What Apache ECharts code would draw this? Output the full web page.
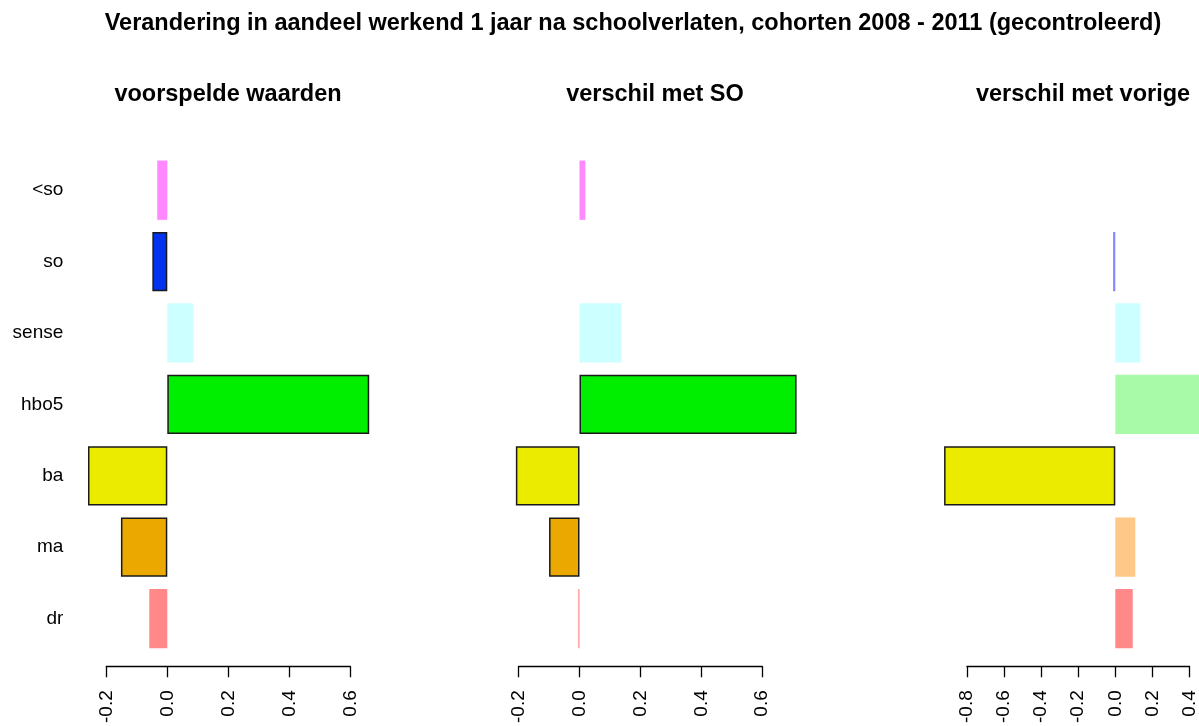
<!DOCTYPE html>
<html>
<head>
<meta charset="utf-8">
<script src="https://cdn.jsdelivr.net/npm/echarts@6/dist/echarts.min.js"></script>
<style>
  html, body { margin: 0; padding: 0; background: #fff; }
  #chart { width: 1199px; height: 726px; }
</style>
</head>
<body>
<div id="chart"></div>
<script>
// categories, top to bottom
var categories = ['<so', 'so', 'sense', 'hbo5', 'ba', 'ma', 'dr'];

// values
var predicted = [-0.033, -0.049, 0.085, 0.662, -0.26, -0.152, -0.059];
var diffSO = [0.019, 0, 0.138, 0.713, -0.209, -0.1, -0.004];
var diffPrev = [0, -0.012, 0.135, 0.58, -0.923, 0.108, 0.094];

// which bars are drawn strong (with border) in each panel
var strongPredicted = [false, true, false, true, true, true, false];
var strongSO = [false, false, false, true, true, true, false];
var strongPrev = [false, false, false, false, true, false, false];

var panelTitles = ['voorspelde waarden', 'verschil met SO', 'verschil met vorige'];

// colours per category
var fullColors = ['#ff00ff', '#0433ee', '#88ffff', '#00ee00', '#ebeb00', '#eba900', '#ff0000'];
var lightColors = ['#ff88ff', '#8888ff', '#ccffff', '#a8f9a8', '#ebeb80', '#fdc888', '#ff8888'];

var font = '"Liberation Sans", Arial, Helvetica, sans-serif';

var chart = echarts.init(document.getElementById('chart'));

function barData(values, strong) {
    return values.map(function (v, i) {
        return {
            value: v,
            itemStyle: strong[i] ? {
                color: fullColors[i],
                borderColor: '#1a1a1a',
                borderWidth: 1.5
            } : {
                color: lightColors[i],
                borderWidth: 0
            }
        };
    });
}

var grids = [
    { left: 106.3, width: 244, top: 154.5, height: 500.5 },
    { left: 518.6, width: 243.6, top: 154.5, height: 500.5 },
    { left: 966.9, width: 225.6, top: 154.5, height: 500.5 }
];
var ranges = [[-0.2, 0.6], [-0.2, 0.6], [-0.8, 0.4]];

var xAxes = ranges.map(function (r, i) {
    return {
        gridIndex: i,
        type: 'value',
        min: r[0],
        max: r[1],
        interval: 0.2,
        offset: 12,
        splitLine: { show: false },
        axisLine: { show: true, lineStyle: { color: '#000', width: 1.3 } },
        axisTick: { show: true, length: 11, lineStyle: { color: '#000', width: 1.3 } },
        axisLabel: {
            rotate: 90,
            margin: 24,
            color: '#000',
            fontSize: 19,
            fontFamily: font,
            formatter: function (v) { return v.toFixed(1); }
        }
    };
});

var yAxes = [0, 1, 2].map(function (i) {
    return {
        gridIndex: i,
        type: 'category',
        inverse: true,
        data: categories,
        axisLine: { show: false },
        axisTick: { show: false },
        splitLine: { show: false },
        axisLabel: {
            show: i === 0,
            margin: 43,
            color: '#000',
            fontSize: 19,
            fontFamily: font
        }
    };
});

var titleCenters = [223, 650, 1078];

chart.setOption({
    animation: false,
    backgroundColor: '#fff',
    title: [{
        text: 'Verandering in aandeel werkend 1 jaar na schoolverlaten, cohorten 2008 - 2011 (gecontroleerd)',
        left: 628,
        textAlign: 'center',
        top: 7,
        textStyle: { fontSize: 23.5, fontWeight: 'bold', color: '#000', fontFamily: font }
    }].concat(panelTitles.map(function (t, i) {
        return {
            text: t,
            left: titleCenters[i],
            textAlign: 'center',
            top: 78,
            textStyle: { fontSize: 23.5, fontWeight: 'bold', color: '#000', fontFamily: font }
        };
    })),
    grid: grids,
    xAxis: xAxes,
    yAxis: yAxes,
    series: [
        { type: 'bar', xAxisIndex: 0, yAxisIndex: 0, barWidth: '83%', clip: false, data: barData(predicted, strongPredicted) },
        { type: 'bar', xAxisIndex: 1, yAxisIndex: 1, barWidth: '83%', clip: false, data: barData(diffSO, strongSO) },
        { type: 'bar', xAxisIndex: 2, yAxisIndex: 2, barWidth: '83%', clip: false, data: barData(diffPrev, strongPrev) }
    ]
});
</script>
</body>
</html>
